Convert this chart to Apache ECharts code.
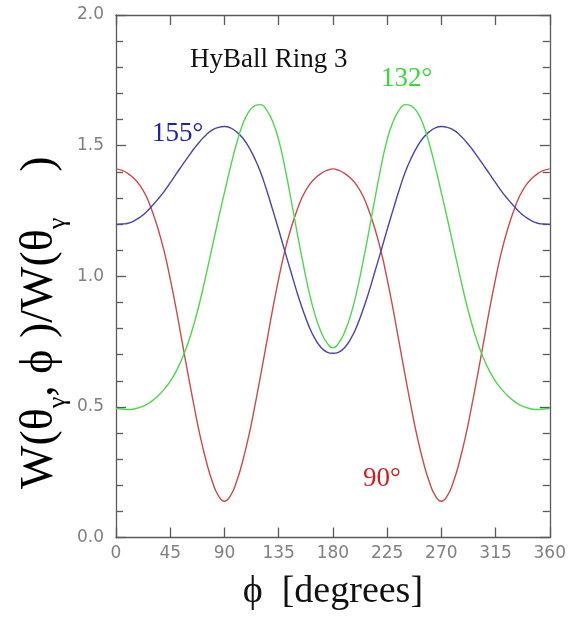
<!DOCTYPE html>
<html>
<head>
<meta charset="utf-8">
<script src="https://cdn.jsdelivr.net/npm/echarts@6/dist/echarts.min.js"></script>
<style>
html,body{margin:0;padding:0;background:#fff;}
#c{width:569px;height:624px;}
</style>
</head>
<body>
<div id="c"></div>
<script>
// phi in degrees (5 degree steps)
const phiDeg = [0,5,10,15,20,25,30,35,40,45,50,55,60,65,70,75,80,85,90,95,100,105,110,115,120,125,130,135,140,145,150,155,160,165,170,175,180,
185,190,195,200,205,210,215,220,225,230,235,240,245,250,255,260,265,270,275,280,285,290,295,300,305,310,315,320,325,330,335,340,345,350,355,360];

// theta = 90 deg (red)
const ring90 = [1.411,1.405,1.393,1.374,1.347,1.307,1.25,1.18,1.095,0.99,0.873,0.746,0.62,0.498,0.385,0.29,0.213,0.16,0.139,0.16,0.213,0.29,0.385,0.498,0.62,0.746,0.873,0.99,1.095,1.18,1.25,1.307,1.347,1.374,1.393,1.405,1.411,
1.405,1.393,1.374,1.347,1.307,1.25,1.18,1.095,0.99,0.873,0.746,0.62,0.498,0.385,0.29,0.213,0.16,0.139,0.16,0.213,0.29,0.385,0.498,0.62,0.746,0.873,0.99,1.095,1.18,1.25,1.307,1.347,1.374,1.393,1.405,1.411];

// theta = 155 deg (blue)
const ring155 = [1.199,1.200,1.203,1.212,1.226,1.245,1.27,1.296,1.325,1.358,1.392,1.425,1.458,1.49,1.518,1.542,1.56,1.57,1.573,1.568,1.553,1.53,1.496,1.452,1.398,1.33,1.255,1.178,1.098,1.02,0.942,0.872,0.81,0.762,0.728,0.71,0.705,
0.71,0.728,0.762,0.81,0.872,0.942,1.02,1.098,1.178,1.255,1.33,1.398,1.452,1.496,1.53,1.553,1.568,1.573,1.57,1.56,1.542,1.518,1.49,1.458,1.425,1.392,1.358,1.325,1.296,1.27,1.245,1.226,1.212,1.203,1.200,1.199];

// theta = 132 deg (green)
const ring132 = [0.494,0.492,0.490,0.492,0.498,0.508,0.523,0.543,0.568,0.598,0.637,0.686,0.747,0.822,0.91,1.01,1.115,1.22,1.32,1.418,1.507,1.58,1.628,1.652,1.657,1.636,1.592,1.522,1.42,1.30,1.175,1.055,0.945,0.855,0.789,0.746,0.726,
0.746,0.789,0.855,0.945,1.055,1.175,1.30,1.42,1.522,1.592,1.636,1.657,1.652,1.628,1.58,1.507,1.418,1.32,1.22,1.115,1.01,0.91,0.822,0.747,0.686,0.637,0.598,0.568,0.543,0.523,0.508,0.498,0.492,0.490,0.492,0.494];

const xTicks = [0,45,90,135,180,225,270,315,360];
const yTicks = [0.0,0.5,1.0,1.5,2.0];
const seriesLabels = ['90°','155°','132°'];
const plotTitle = 'HyBall Ring 3';

function pairs(ys){ return phiDeg.map((p,i)=>[p, ys[i]]); }

const axisColor = '#5a5a5a';
const tickFont = {color:'#808080', fontFamily:'DejaVu Sans', fontSize:17};
const serif = '"Liberation Serif","Times New Roman",serif';

const chart = echarts.init(document.getElementById('c'), null, {renderer:'canvas'});
const xBase = {
  type:'value', min:xTicks[0], max:xTicks[xTicks.length-1], interval:45,
  axisLine:{show:true, onZero:false, lineStyle:{color:axisColor, width:1.3}},
  axisTick:{show:true, inside:true, length:10, lineStyle:{color:axisColor, width:1.3}},
  splitLine:{show:false}
};
const yBase = {
  type:'value', min:yTicks[0], max:yTicks[yTicks.length-1], interval:0.5,
  axisLine:{show:true, onZero:false, lineStyle:{color:axisColor, width:1.3}},
  axisTick:{show:true, inside:true, length:10, lineStyle:{color:axisColor, width:1.3}},
  minorTick:{show:true, splitNumber:5, length:7, lineStyle:{color:axisColor, width:1.3}},
  splitLine:{show:false}, minorSplitLine:{show:false}
};
const lineBase = {type:'line', smooth:0.5, showSymbol:false};
chart.setOption({
  animation:false,
  backgroundColor:'#fff',
  grid:{left:116, right:18.5, top:15, bottom:86.5},
  xAxis:[
    Object.assign({}, xBase, {position:'bottom',
      axisLabel:Object.assign({margin:8, formatter:v=>String(v)}, tickFont),
      name:'ϕ  [degrees]', nameLocation:'middle', nameGap:36,
      nameTextStyle:{fontFamily:serif, fontSize:38, color:'#111'}}),
    Object.assign({}, xBase, {position:'top', axisLabel:{show:false}})
  ],
  yAxis:[
    Object.assign({}, yBase, {position:'left',
      axisLabel:Object.assign({margin:12, formatter:v=>v.toFixed(1)}, tickFont)}),
    Object.assign({}, yBase, {position:'right', axisLabel:{show:false}})
  ],
  series:[
    Object.assign({}, lineBase, {name:seriesLabels[0], data:pairs(ring90), lineStyle:{color:'#c94a4a', width:1.4}}),
    Object.assign({}, lineBase, {name:seriesLabels[1], data:pairs(ring155), lineStyle:{color:'#4646a8', width:1.4}}),
    Object.assign({}, lineBase, {name:seriesLabels[2], data:pairs(ring132), lineStyle:{color:'#4fd64f', width:1.4}})
  ],
  graphic:[
    {type:'text', left:190, top:46, style:{text:plotTitle, font:'27px '+serif, fill:'#111'}},
    {type:'text', left:152, top:120, style:{text:seriesLabels[1], font:'27px '+serif, fill:'#2020b0'}},
    {type:'text', left:381, top:65, style:{text:seriesLabels[2], font:'27px '+serif, fill:'#38d838'}},
    {type:'text', left:363, top:465, style:{text:seriesLabels[0], font:'27px '+serif, fill:'#cc2020'}},
    {type:'text', x:13, y:489, rotation:Math.PI/2, style:{
      text:'{a|W(θ}{s|γ}{a|, ϕ )/W(θ}{s|γ}{a|    )}',
      rich:{
        a:{fontFamily:serif, fontSize:46, color:'#111', lineHeight:50, verticalAlign:'bottom'},
        s:{fontFamily:serif, fontSize:26, color:'#111', lineHeight:50, verticalAlign:'bottom', padding:[0,0,-8,0]}
      }
    }}
  ]
});
</script>
</body>
</html>
